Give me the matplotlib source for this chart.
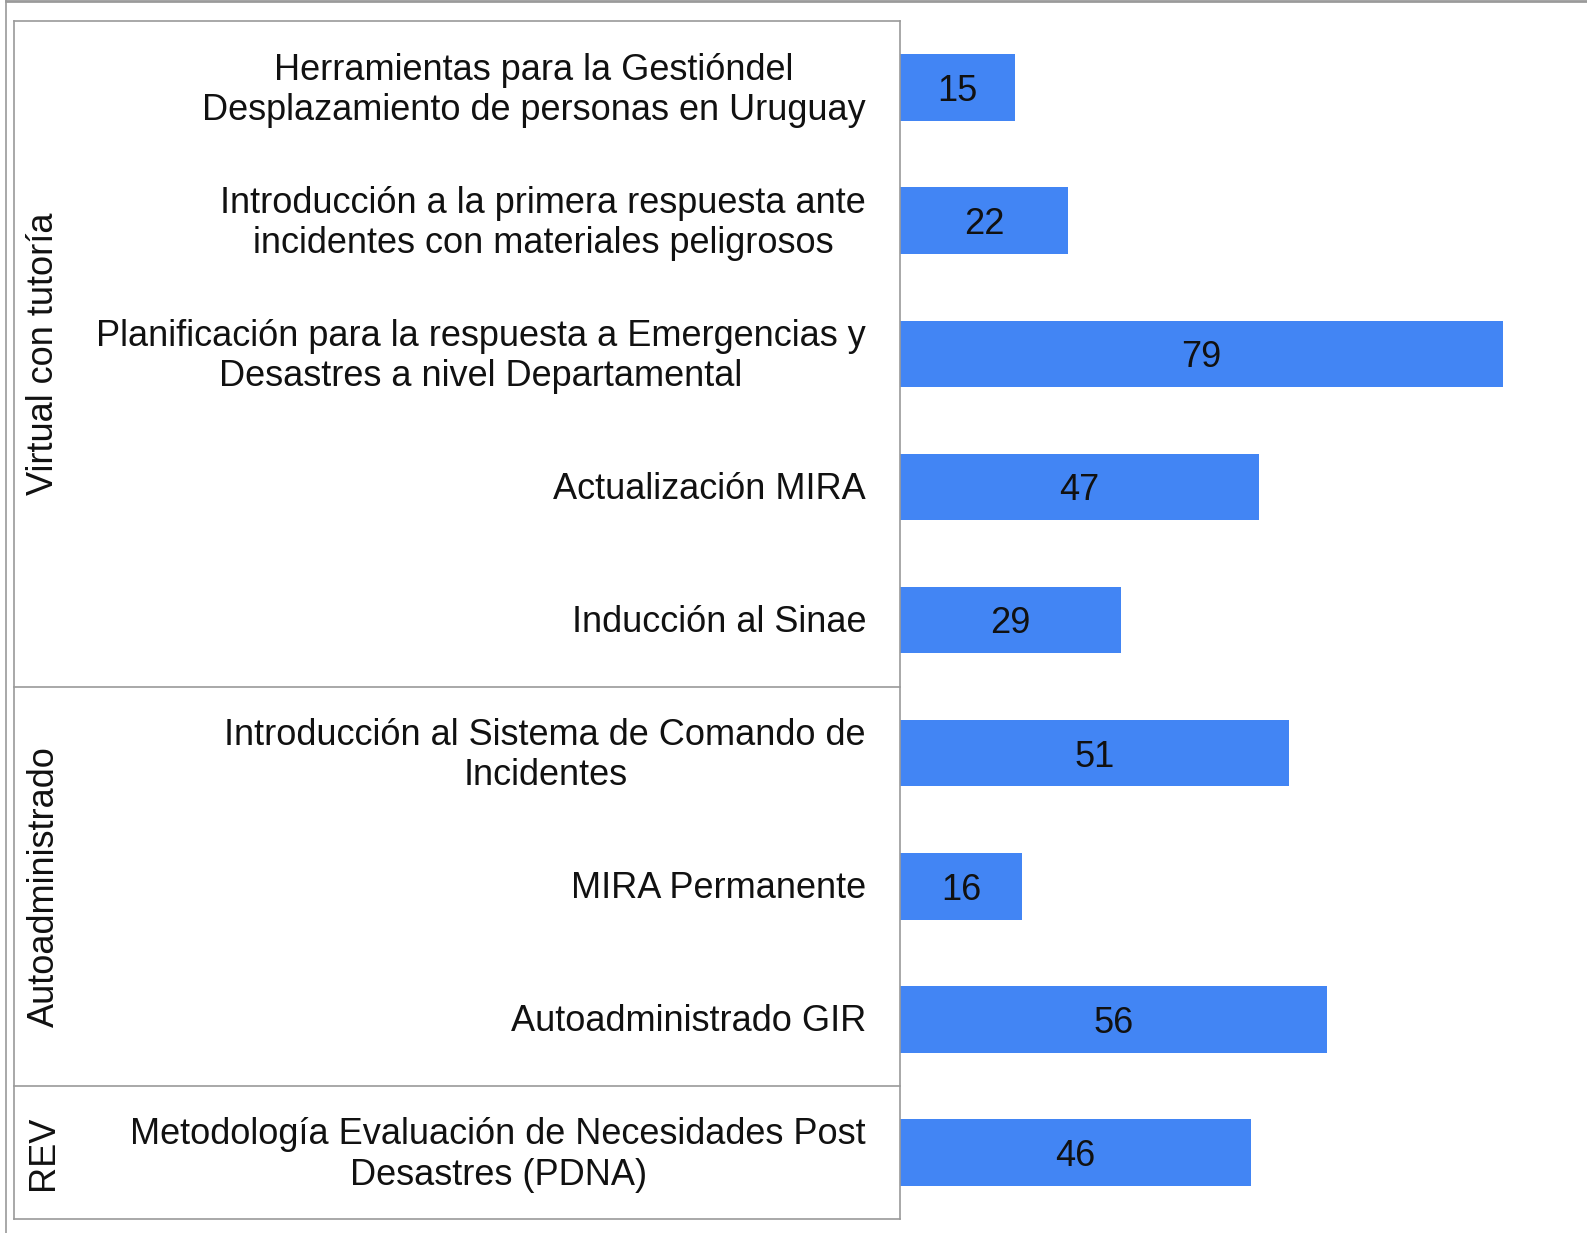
import matplotlib
matplotlib.use('Agg')
import matplotlib.pyplot as plt
from matplotlib.lines import Line2D
from matplotlib.transforms import blended_transform_factory

plt.rcParams['font.family'] = ['Liberation Sans', 'DejaVu Sans']

courses = [
    'Herramientas para la Gestióndel\nDesplazamiento de personas en Uruguay',
    'Introducción a la primera respuesta ante\nincidentes con materiales peligrosos',
    'Planificación para la respuesta a Emergencias y\nDesastres a nivel Departamental',
    'Actualización MIRA',
    'Inducción al Sinae',
    'Introducción al Sistema de Comando de\nIncidentes',
    'MIRA Permanente',
    'Autoadministrado GIR',
    'Metodología Evaluación de Necesidades Post\nDesastres (PDNA)',
]
values = [15, 22, 79, 47, 29, 51, 16, 56, 46]
groups = ['Virtual con tutoría', 'Autoadministrado', 'REV']
group_sizes = [5, 3, 1]

W, H = 1587, 1233
FS = 26
fig = plt.figure(figsize=(W / 100, H / 100), dpi=100)
ax_left, ax_top, ax_bottom = 900, 21, 1219
ax = fig.add_axes([ax_left / W, 1 - ax_bottom / H, 1 - ax_left / W, (ax_bottom - ax_top) / H])

ypos = list(range(len(values)))
ax.barh(ypos, values, height=0.5, color='#4285f4')
for y, v in zip(ypos, values):
    ax.text(v / 2, y + 0.03, str(v), ha='center', va='center', fontsize=FS, color='#111111')

ax.set_xlim(0, 90)
ax.set_ylim(len(values) - 0.5, -0.5)
ax.set_xticks([])
ax.set_yticks([])
for s in ['top', 'right', 'bottom']:
    ax.spines[s].set_visible(False)
ax.spines['left'].set_color('#9a9a9a')
ax.spines['left'].set_linewidth(1.2)

# category labels, right-aligned next to the axis
tr = blended_transform_factory(fig.transFigure, ax.transData)
for y, name in zip(ypos, courses):
    ax.text(866 / W, y + 0.02, name, transform=tr, ha='right', va='center',
            multialignment='center', fontsize=FS, linespacing=1.2, color='#111111')

# table frame lines and group labels
line_kw = dict(color='#9a9a9a', lw=1.2, transform=tr, clip_on=False)
x0, x1 = 14 / W, ax_left / W
start = -0.5
ax.add_line(Line2D([x0, x1], [start, start], **line_kw))
ax.add_line(Line2D([x0, x0], [-0.5, len(values) - 0.5], **line_kw))
for g, n in zip(groups, group_sizes):
    end = start + n
    ax.add_line(Line2D([x0, x1], [end, end], **line_kw))
    ax.text(44 / W, (start + end) / 2, g, transform=tr, rotation=90,
            ha='center', va='center', fontsize=FS, color='#111111')
    start = end

# outer border of the picture
fig.add_artist(Line2D([6 / W, 1], [1 - 1 / H, 1 - 1 / H], color='#9a9a9a', lw=2,
                      transform=fig.transFigure))
fig.add_artist(Line2D([6 / W, 6 / W], [0, 1], color='#9a9a9a', lw=1.2,
                      transform=fig.transFigure))

fig.savefig('out.png', dpi=100)
